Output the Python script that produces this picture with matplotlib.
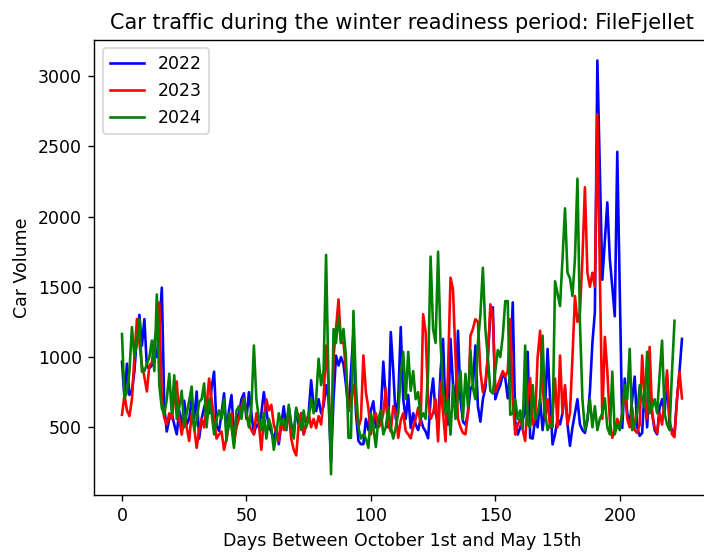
import numpy as np
import matplotlib
matplotlib.use('Agg')
import matplotlib.pyplot as plt

# Daily car counts, October 1st -> May 15th
traffic_2022 = [
    967, 706, 953, 730, 760, 900, 1150, 1300, 1080, 1270,
    930, 920, 940, 1040, 1000, 1200, 1494, 640, 470, 560,
    600, 520, 450, 620, 500, 690, 520, 560, 700, 560,
    755, 420, 560, 640, 700, 600, 780, 896, 510, 474,
    600, 742, 470, 620, 730, 450, 560, 600, 700, 742,
    560, 750, 600, 450, 520, 500, 600, 750, 620, 500,
    470, 403, 500, 380, 520, 650, 480, 640, 520, 450,
    630, 520, 600, 450, 520, 600, 835, 650, 615, 700,
    600, 650, 800, 700, 250, 700, 1010, 940, 1000, 950,
    800, 615, 900, 1178, 600, 403, 380, 380, 560, 480,
    620, 685, 500, 520, 600, 967, 700, 500, 1178, 900,
    560, 700, 1213, 700, 560, 730, 495, 600, 520, 480,
    560, 500, 470, 422, 700, 847, 600, 530, 900, 1129,
    600, 520, 1129, 800, 680, 1187, 700, 540, 519, 600,
    770, 800, 1082, 650, 540, 700, 780, 1000, 1300, 1354,
    700, 760, 800, 880, 850, 706, 900, 1389, 543, 448,
    500, 560, 600, 1037, 425, 420, 560, 500, 700, 480,
    640, 1058, 700, 378, 450, 560, 520, 600, 777, 520,
    368, 500, 600, 700, 520, 480, 460, 550, 755, 1100,
    1319, 3110, 2330, 1550, 1830, 2100, 1700, 1500, 1290, 2460,
    1480, 495, 847, 600, 520, 700, 861, 500, 439, 460,
    780, 500, 847, 600, 480, 450, 640, 700, 600, 850,
    520, 480, 460, 700, 900, 1129,
]

traffic_2023 = [
    589, 730, 620, 580, 700, 1000, 1270, 1100, 941, 860,
    755, 940, 960, 1107, 1200, 1389, 700, 565, 519, 600,
    560, 700, 826, 560, 448, 560, 500, 403, 600, 500,
    354, 480, 560, 500, 650, 847, 700, 560, 420, 450,
    470, 340, 420, 520, 600, 380, 500, 560, 650, 706,
    600, 520, 480, 450, 600, 520, 340, 560, 700, 620,
    660, 520, 460, 400, 560, 480, 520, 600, 420, 340,
    300, 520, 600, 450, 520, 600, 500, 560, 495, 580,
    520, 700, 1082, 800, 300, 1000, 1200, 1410, 1100, 1107,
    900, 615, 700, 800, 650, 500, 560, 1011, 750, 636,
    450, 560, 600, 500, 520, 600, 777, 520, 470, 650,
    600, 425, 550, 600, 474, 450, 422, 500, 560, 640,
    520, 1305, 1178, 700, 560, 600, 700, 400, 820, 600,
    400, 900, 1565, 1480, 1000, 560, 500, 460, 450, 600,
    1152, 1200, 1270, 1250, 900, 750, 820, 1000, 1375, 1300,
    750, 800, 850, 900, 860, 900, 1270, 700, 448, 520,
    560, 480, 403, 700, 850, 520, 560, 1000, 1187, 800,
    565, 700, 500, 600, 847, 500, 1011, 600, 800, 520,
    600, 1000, 1434, 1250, 1319, 1700, 2208, 1600, 1500, 1600,
    1500, 2727, 1600, 560, 1143, 900, 550, 425, 480, 560,
    500, 600, 800, 560, 500, 640, 480, 460, 520, 1011,
    700, 560, 1072, 600, 500, 460, 600, 520, 700, 905,
    560, 450, 430, 700, 896, 706,
]

traffic_2024 = [
    1164, 706, 750, 900, 1213, 1000, 1100, 1270, 896, 900,
    950, 1000, 1117, 900, 1445, 800, 636, 589, 700, 882,
    600, 870, 560, 640, 760, 500, 600, 690, 790, 480,
    550, 680, 700, 812, 500, 700, 600, 450, 560, 620,
    560, 700, 403, 600, 500, 354, 620, 650, 560, 700,
    600, 500, 640, 1082, 700, 560, 480, 600, 420, 560,
    500, 340, 450, 600, 520, 560, 480, 660, 520, 420,
    640, 560, 480, 620, 500, 560, 706, 600, 700, 988,
    800, 900, 1727, 800, 166, 1199, 1100, 1293, 1100, 1200,
    1000, 425, 425, 1328, 800, 500, 420, 450, 420, 354,
    600, 500, 360, 560, 620, 450, 500, 640, 500, 420,
    500, 600, 880, 1037, 700, 1037, 760, 900, 700, 750,
    560, 600, 560, 900, 1715, 1200, 1100, 1750, 1100, 780,
    600, 700, 448, 800, 560, 720, 900, 560, 880, 650,
    1050, 780, 700, 1100, 1300, 1635, 1200, 1000, 760, 740,
    900, 1050, 1000, 1150, 1398, 1398, 589, 600, 700, 560,
    620, 495, 1082, 520, 500, 800, 560, 600, 700, 1152,
    600, 480, 520, 500, 1539, 1450, 1363, 1700, 2058, 1600,
    1560, 1434, 1700, 2269, 1248, 700, 480, 560, 700, 500,
    650, 480, 560, 600, 706, 500, 450, 896, 450, 520,
    480, 600, 800, 700, 1058, 480, 520, 600, 800, 700,
    640, 1037, 600, 640, 700, 600, 870, 1117, 600, 520,
    480, 900, 1258,
]

years = ['2022', '2023', '2024']
colors = ['blue', 'red', 'green']
series = [traffic_2022, traffic_2023, traffic_2024]

fig = plt.figure(figsize=(5.632, 4.424), dpi=125)
ax = fig.add_axes([0.1335, 0.105, 0.875, 0.823])

for year, color, values in zip(years, colors, series):
    ax.plot(np.arange(len(values)), values, color=color, label=year)

ax.set_title('Car traffic during the winter readiness period: FileFjellet')
ax.set_xlabel('Days Between October 1st and May 15th')
ax.set_ylabel('Car Volume')
ax.legend(loc='upper left')

fig.savefig('out.png', dpi=125)
